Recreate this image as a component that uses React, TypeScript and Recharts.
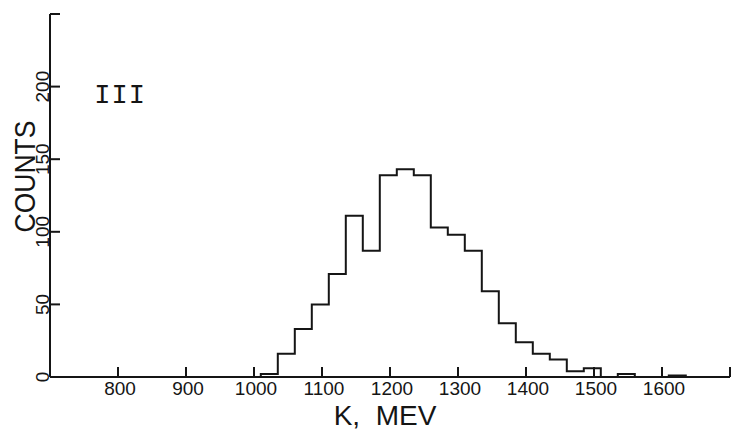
import React from 'react';
import { LineChart, Line, XAxis, YAxis, ReferenceDot } from 'recharts';

// Lower edges of the 25 MeV bins (MeV) and their counts
const binLowEdges = [1010, 1035, 1060, 1085, 1110, 1135, 1160, 1185, 1210, 1235, 1260, 1285, 1310, 1335, 1360, 1385, 1410, 1435, 1460, 1485, 1510, 1535, 1560, 1585, 1610];
const binCounts = [2, 16, 33, 50, 71, 111, 87, 139, 143, 139, 103, 98, 87, 59, 37, 24, 16, 12, 4, 6, 0, 2, 0, 0, 1];
const binWidth = 25;

const xDomain = [700, 1700];
const xTicks = [700, 800, 900, 1000, 1100, 1200, 1300, 1400, 1500, 1600, 1700];
const xLabelTicks = [800, 900, 1000, 1100, 1200, 1300, 1400, 1500, 1600];
const yDomain = [0, 250];
const yTicks = [0, 50, 100, 150, 200, 250];
const yLabelTicks = [0, 50, 100, 150, 200];

const panelLabel = 'III';
const xTitle = 'K,  MEV';
const yTitle = 'COUNTS';

const data = [
  { e: xDomain[0], count: 0 },
  ...binLowEdges.map((e, i) => ({ e, count: binCounts[i] })),
  { e: binLowEdges[binLowEdges.length - 1] + binWidth, count: 0 },
  { e: xDomain[1], count: 0 },
];

const INK = '#151515';
const NUM_FONT = '"Liberation Sans", Arial, sans-serif';
const TICK_LEN = 10;

const XTick = (props: any) => {
  const { x, y, payload } = props;
  const v = payload.value;
  if (v === xDomain[0]) return null;
  return (
    <g>
      <path d={`M${x},${y}V${y - TICK_LEN}`} stroke={INK} strokeWidth={2} fill="none" />
      {xLabelTicks.includes(v) && (
        <text x={x + 2} y={y + 18} textAnchor="middle" fontFamily={NUM_FONT} fontSize={19} fill={INK} stroke="none">
          {v}
        </text>
      )}
    </g>
  );
};

const YTick = (props: any) => {
  const { x, y, payload } = props;
  const v = payload.value;
  return (
    <g>
      {v !== 0 && <path d={`M${x},${y}H${x + TICK_LEN}`} stroke={INK} strokeWidth={2} fill="none" />}
      {yLabelTicks.includes(v) && (
        <text
          x={x - 1}
          y={y}
          textAnchor="middle"
          transform={`rotate(-90, ${x - 1}, ${y})`}
          fontFamily={NUM_FONT}
          fontSize={19}
          fill={INK}
          stroke="none"
        >
          {v}
        </text>
      )}
    </g>
  );
};

const XTitle = (props: any) => {
  const vb = props.viewBox || {};
  const cx = vb.x + vb.width / 2 - 5;
  return (
    <text x={cx} y={vb.y + 48} textAnchor="middle" fontFamily={NUM_FONT} fontSize={28} fill={INK} style={{ whiteSpace: 'pre' }}>
      {xTitle}
    </text>
  );
};

const YTitle = (props: any) => {
  const vb = props.viewBox || {};
  const bx = 35;
  const cy = vb.y + vb.height / 2 - 19;
  return (
    <text x={bx} y={cy} textAnchor="middle" transform={`rotate(-90, ${bx}, ${cy})`} fontFamily={NUM_FONT} fontSize={30} textLength={112} lengthAdjust="spacingAndGlyphs" fill={INK}>
      {yTitle}
    </text>
  );
};

const PanelLabel = (props: any) => {
  const vb = props.viewBox || {};
  return (
    <text x={vb.x} y={vb.y + 9} textAnchor="middle" fontFamily={'"Liberation Mono", "DejaVu Sans Mono", monospace'} fontSize={27} letterSpacing={1} fill={INK}>
      {panelLabel}
    </text>
  );
};

export default function App() {
  return (
    <div style={{ position: 'absolute', left: 0, top: 0, background: '#fff' }}>
      <LineChart width={735} height={441} data={data} margin={{ top: 14, right: 5, bottom: 34, left: 0 }}>
        <XAxis dataKey="e" type="number" domain={xDomain} ticks={xTicks} interval={0} height={30} tickSize={-10} tickMargin={10} tickLine={false} axisLine={{ stroke: INK, strokeWidth: 2 }} tick={<XTick />} label={{ content: <XTitle /> }} />
        <YAxis type="number" domain={yDomain} ticks={yTicks} interval={0} width={50} tickSize={-10} tickMargin={10} tickLine={false} axisLine={{ stroke: INK, strokeWidth: 2 }} tick={<YTick />} label={{ content: <YTitle /> }} />
        <ReferenceDot x={803} y={195} r={0} fill="none" stroke="none" label={{ content: <PanelLabel /> }} />
        <Line type="stepAfter" dataKey="count" stroke={INK} strokeWidth={2} dot={false} activeDot={false} isAnimationActive={false} />
      </LineChart>
    </div>
  );
}
